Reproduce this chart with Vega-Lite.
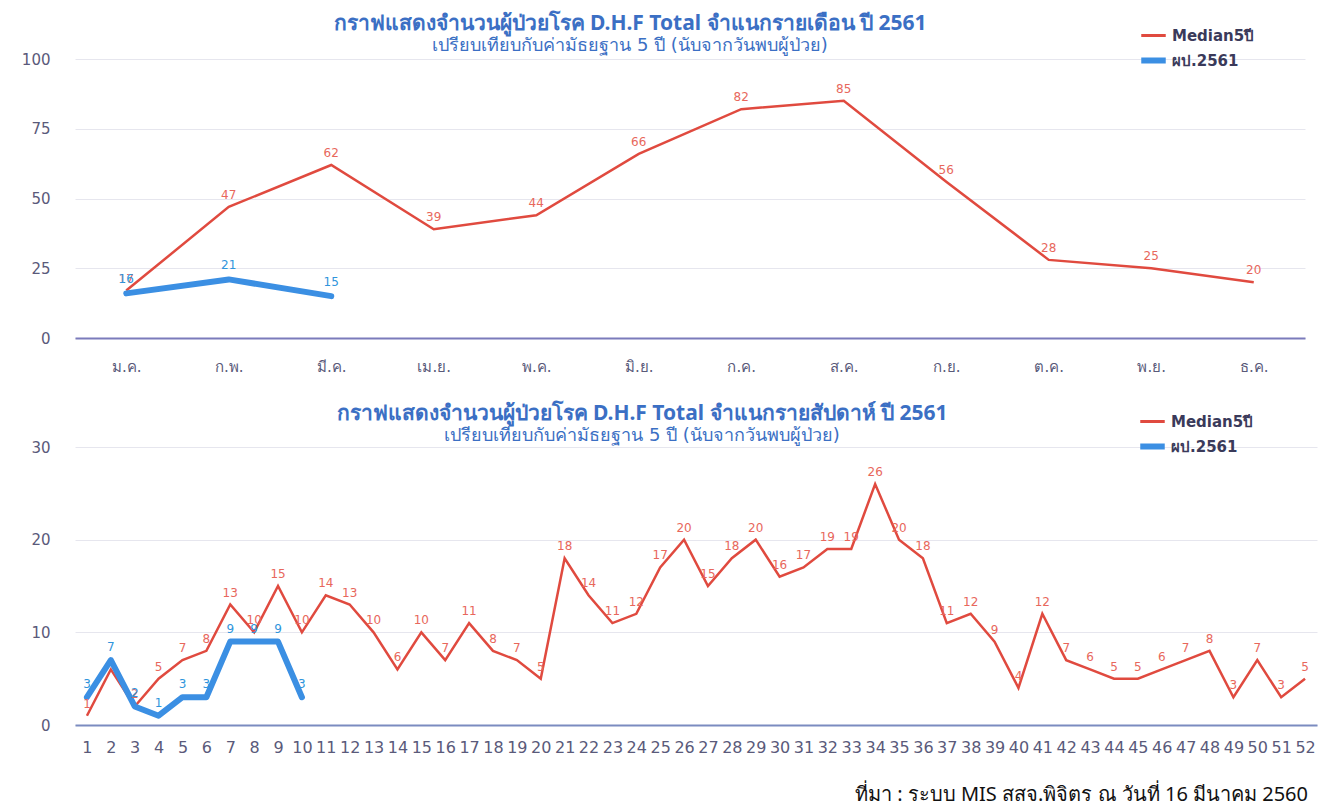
{
  "$schema": "https://vega.github.io/schema/vega-lite/v6.json",
  "background": "white",
  "padding": {"left": 20, "top": 13, "right": 5, "bottom": 1},
  "datasets": {
    "monthly": [
      {"month": "ม.ค.", "series": "Median5ปี", "value": 17},
      {"month": "ก.พ.", "series": "Median5ปี", "value": 47},
      {"month": "มี.ค.", "series": "Median5ปี", "value": 62},
      {"month": "เม.ย.", "series": "Median5ปี", "value": 39},
      {"month": "พ.ค.", "series": "Median5ปี", "value": 44},
      {"month": "มิ.ย.", "series": "Median5ปี", "value": 66},
      {"month": "ก.ค.", "series": "Median5ปี", "value": 82},
      {"month": "ส.ค.", "series": "Median5ปี", "value": 85},
      {"month": "ก.ย.", "series": "Median5ปี", "value": 56},
      {"month": "ต.ค.", "series": "Median5ปี", "value": 28},
      {"month": "พ.ย.", "series": "Median5ปี", "value": 25},
      {"month": "ธ.ค.", "series": "Median5ปี", "value": 20},
      {"month": "ม.ค.", "series": "ผป.2561", "value": 16},
      {"month": "ก.พ.", "series": "ผป.2561", "value": 21},
      {"month": "มี.ค.", "series": "ผป.2561", "value": 15}
    ],
    "weekly": [
      {"week": 1, "series": "Median5ปี", "value": 1},
      {"week": 2, "series": "Median5ปี", "value": 6},
      {"week": 3, "series": "Median5ปี", "value": 2},
      {"week": 4, "series": "Median5ปี", "value": 5},
      {"week": 5, "series": "Median5ปี", "value": 7},
      {"week": 6, "series": "Median5ปี", "value": 8},
      {"week": 7, "series": "Median5ปี", "value": 13},
      {"week": 8, "series": "Median5ปี", "value": 10},
      {"week": 9, "series": "Median5ปี", "value": 15},
      {"week": 10, "series": "Median5ปี", "value": 10},
      {"week": 11, "series": "Median5ปี", "value": 14},
      {"week": 12, "series": "Median5ปี", "value": 13},
      {"week": 13, "series": "Median5ปี", "value": 10},
      {"week": 14, "series": "Median5ปี", "value": 6},
      {"week": 15, "series": "Median5ปี", "value": 10},
      {"week": 16, "series": "Median5ปี", "value": 7},
      {"week": 17, "series": "Median5ปี", "value": 11},
      {"week": 18, "series": "Median5ปี", "value": 8},
      {"week": 19, "series": "Median5ปี", "value": 7},
      {"week": 20, "series": "Median5ปี", "value": 5},
      {"week": 21, "series": "Median5ปี", "value": 18},
      {"week": 22, "series": "Median5ปี", "value": 14},
      {"week": 23, "series": "Median5ปี", "value": 11},
      {"week": 24, "series": "Median5ปี", "value": 12},
      {"week": 25, "series": "Median5ปี", "value": 17},
      {"week": 26, "series": "Median5ปี", "value": 20},
      {"week": 27, "series": "Median5ปี", "value": 15},
      {"week": 28, "series": "Median5ปี", "value": 18},
      {"week": 29, "series": "Median5ปี", "value": 20},
      {"week": 30, "series": "Median5ปี", "value": 16},
      {"week": 31, "series": "Median5ปี", "value": 17},
      {"week": 32, "series": "Median5ปี", "value": 19},
      {"week": 33, "series": "Median5ปี", "value": 19},
      {"week": 34, "series": "Median5ปี", "value": 26},
      {"week": 35, "series": "Median5ปี", "value": 20},
      {"week": 36, "series": "Median5ปี", "value": 18},
      {"week": 37, "series": "Median5ปี", "value": 11},
      {"week": 38, "series": "Median5ปี", "value": 12},
      {"week": 39, "series": "Median5ปี", "value": 9},
      {"week": 40, "series": "Median5ปี", "value": 4},
      {"week": 41, "series": "Median5ปี", "value": 12},
      {"week": 42, "series": "Median5ปี", "value": 7},
      {"week": 43, "series": "Median5ปี", "value": 6},
      {"week": 44, "series": "Median5ปี", "value": 5},
      {"week": 45, "series": "Median5ปี", "value": 5},
      {"week": 46, "series": "Median5ปี", "value": 6},
      {"week": 47, "series": "Median5ปี", "value": 7},
      {"week": 48, "series": "Median5ปี", "value": 8},
      {"week": 49, "series": "Median5ปี", "value": 3},
      {"week": 50, "series": "Median5ปี", "value": 7},
      {"week": 51, "series": "Median5ปี", "value": 3},
      {"week": 52, "series": "Median5ปี", "value": 5},
      {"week": 1, "series": "ผป.2561", "value": 3},
      {"week": 2, "series": "ผป.2561", "value": 7},
      {"week": 3, "series": "ผป.2561", "value": 2},
      {"week": 4, "series": "ผป.2561", "value": 1},
      {"week": 5, "series": "ผป.2561", "value": 3},
      {"week": 6, "series": "ผป.2561", "value": 3},
      {"week": 7, "series": "ผป.2561", "value": 9},
      {"week": 8, "series": "ผป.2561", "value": 9},
      {"week": 9, "series": "ผป.2561", "value": 9},
      {"week": 10, "series": "ผป.2561", "value": 3}
    ]
  },
  "title": {
    "text": "ที่มา : ระบบ MIS สสจ.พิจิตร ณ วันที่ 16 มีนาคม 2560",
    "orient": "bottom",
    "anchor": "end",
    "fontSize": 20,
    "fontWeight": "normal",
    "color": "#111111",
    "offset": 30,
    "dx": -9
  },
  "spacing": 29,
  "vconcat": [
    {
      "width": 1230,
      "height": 279,
      "title": {
        "text": "กราฟแสดงจำนวนผู้ป่วยโรค D.H.F Total จำแนกรายเดือน ปี 2561",
        "subtitle": "เปรียบเทียบกับค่ามัธยฐาน 5 ปี (นับจากวันพบผู้ป่วย)",
        "fontSize": 21,
        "subtitleFontSize": 18,
        "color": "#3b6fc4",
        "subtitleColor": "#3b6fc4",
        "frame": "group",
        "anchor": "middle",
        "dx": -60,
        "offset": -27,
        "subtitlePadding": 3
      },
      "data": {"name": "monthly"},
      "encoding": {
        "x": {
          "field": "month",
          "type": "ordinal",
          "sort": ["ม.ค.", "ก.พ.", "มี.ค.", "เม.ย.", "พ.ค.", "มิ.ย.", "ก.ค.", "ส.ค.", "ก.ย.", "ต.ค.", "พ.ย.", "ธ.ค."],
          "scale": {"type": "point", "padding": 0.5},
          "axis": {
            "title": null,
            "labelAngle": 0,
            "labelFontSize": 15,
            "labelColor": "#5a5a7a",
            "labelPadding": 21,
            "ticks": false,
            "domainColor": "#7b7bbb",
            "domainWidth": 2,
            "grid": false
          }
        },
        "y": {
          "field": "value",
          "type": "quantitative",
          "scale": {"domain": [0, 100]},
          "axis": {
            "title": null,
            "values": [0, 25, 50, 75, 100],
            "labelFontSize": 15,
            "labelColor": "#5a5a7a",
            "ticks": false,
            "domain": false,
            "labelPadding": 25,
            "minExtent": 55,
            "maxExtent": 55,
            "gridColor": "#e6e6ee"
          }
        }
      },
      "layer": [
        {
          "transform": [{"filter": "datum.series === 'Median5ปี'"}],
          "mark": {"type": "line", "strokeWidth": 2.5},
          "encoding": {
            "color": {
              "field": "series",
              "type": "nominal",
              "scale": {"domain": ["Median5ปี", "ผป.2561"], "range": ["#e04a3f", "#3b8fe3"]},
              "legend": {
                "title": null,
                "orient": "none",
                "legendX": 1071,
                "legendY": -31,
                "symbolType": "stroke",
                "symbolSize": 600,
                "labelFontSize": 15,
                "labelFontWeight": "bold",
                "labelColor": "#3a3a5a",
                "labelOffset": 11,
                "rowPadding": 4,
                "encode": {
                  "symbols": {"update": {
                    "stroke": {"signal": "datum.value === 'Median5ปี' ? '#f06a6a' : '#4a90e2'"},
                    "strokeWidth": {"signal": "datum.value === 'Median5ปี' ? 3 : 6"}
                  }}
                }
              }
            }
          }
        },
        {
          "transform": [{"filter": "datum.series === 'ผป.2561'"}],
          "mark": {"type": "line", "strokeWidth": 6, "strokeCap": "round", "strokeJoin": "round"},
          "encoding": {"color": {"field": "series", "type": "nominal"}}
        },
        {
          "transform": [{"filter": "datum.series === 'Median5ปี'"}],
          "mark": {"type": "text", "dy": -12, "fontSize": 12, "color": "#e8675c"},
          "encoding": {"text": {"field": "value", "type": "quantitative"}}
        },
        {
          "transform": [{"filter": "datum.series === 'ผป.2561'"}],
          "mark": {"type": "text", "dy": -14, "fontSize": 12, "color": "#2f95dc"},
          "encoding": {"text": {"field": "value", "type": "quantitative"}}
        }
      ]
    },
    {
      "width": 1242,
      "height": 278,
      "title": {
        "text": "กราฟแสดงจำนวนผู้ป่วยโรค D.H.F Total จำแนกรายสัปดาห์ ปี 2561",
        "subtitle": "เปรียบเทียบกับค่ามัธยฐาน 5 ปี (นับจากวันพบผู้ป่วย)",
        "fontSize": 21,
        "subtitleFontSize": 18,
        "color": "#3b6fc4",
        "subtitleColor": "#3b6fc4",
        "frame": "group",
        "anchor": "middle",
        "dx": -54,
        "offset": -31,
        "subtitlePadding": 3
      },
      "data": {"name": "weekly"},
      "encoding": {
        "x": {
          "field": "week",
          "type": "ordinal",
          "scale": {"type": "point", "padding": 0.5},
          "axis": {
            "title": null,
            "labelAngle": 0,
            "labelFontSize": 16,
            "labelColor": "#5a5a7a",
            "labelPadding": 14,
            "ticks": false,
            "domainColor": "#7b8bc0",
            "domainWidth": 2,
            "grid": false
          }
        },
        "y": {
          "field": "value",
          "type": "quantitative",
          "scale": {"domain": [0, 30]},
          "axis": {
            "title": null,
            "values": [0, 10, 20, 30],
            "labelFontSize": 15,
            "labelColor": "#5a5a7a",
            "ticks": false,
            "domain": false,
            "labelPadding": 25,
            "minExtent": 43,
            "maxExtent": 43,
            "gridColor": "#e6e6ee"
          }
        }
      },
      "layer": [
        {
          "transform": [{"filter": "datum.series === 'Median5ปี'"}],
          "mark": {"type": "line", "strokeWidth": 2.5},
          "encoding": {
            "color": {
              "field": "series",
              "type": "nominal",
              "scale": {"domain": ["Median5ปี", "ผป.2561"], "range": ["#e04a3f", "#3b8fe3"]},
              "legend": {
                "title": null,
                "orient": "none",
                "legendX": 1070,
                "legendY": -33,
                "symbolType": "stroke",
                "symbolSize": 600,
                "labelFontSize": 15,
                "labelFontWeight": "bold",
                "labelColor": "#3a3a5a",
                "labelOffset": 11,
                "rowPadding": 4,
                "encode": {
                  "symbols": {"update": {
                    "stroke": {"signal": "datum.value === 'Median5ปี' ? '#c9505a' : '#8a6ad0'"},
                    "strokeWidth": {"signal": "datum.value === 'Median5ปี' ? 3 : 6"}
                  }}
                }
              }
            }
          }
        },
        {
          "transform": [{"filter": "datum.series === 'ผป.2561'"}],
          "mark": {"type": "line", "strokeWidth": 6, "strokeCap": "round", "strokeJoin": "round"},
          "encoding": {"color": {"field": "series", "type": "nominal"}}
        },
        {
          "transform": [{"filter": "datum.series === 'Median5ปี' && datum.week !== 2"}],
          "mark": {"type": "text", "dy": -12, "fontSize": 12, "color": "#e8675c"},
          "encoding": {"text": {"field": "value", "type": "quantitative"}}
        },
        {
          "transform": [{"filter": "datum.series === 'ผป.2561'"}],
          "mark": {"type": "text", "dy": -13, "fontSize": 12, "color": "#2f95dc"},
          "encoding": {"text": {"field": "value", "type": "quantitative"}}
        }
      ]
    }
  ],
  "resolve": {"scale": {"color": "independent"}},
  "config": {
    "view": {"stroke": null},
    "font": "DejaVu Sans",
    "title": {"font": "Noto Sans"}
  }
}
